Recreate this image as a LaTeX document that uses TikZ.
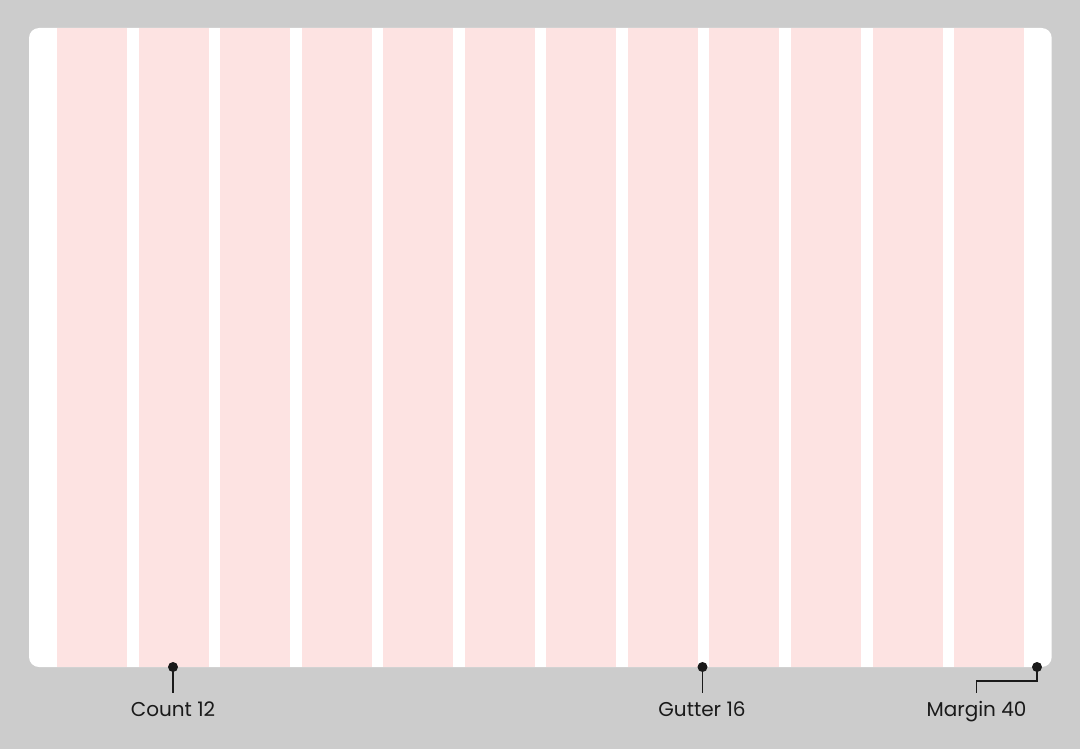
\documentclass[tikz,border=0pt]{standalone}
\usepackage{fontspec}
\setmainfont{Poppins}
\definecolor{bggray}{RGB}{204,204,204}
\definecolor{colpink}{RGB}{253,227,226}
\definecolor{ink}{RGB}{26,26,26}
\begin{document}
\begin{tikzpicture}[x=0.75pt,y=-0.75pt,
  colbox/.style={fill=colpink,draw=none},
  marker/.style={circle,fill=ink,inner sep=0pt,minimum size=7.5pt},
  leader/.style={draw=ink,line width=1.1pt},
  lbl/.style={text=ink,font=\fontsize{15}{18}\selectfont,inner sep=0pt,anchor=base}]
\fill[bggray] (0,0) rectangle (1080,749);
\useasboundingbox (0,0) rectangle (1080,749);
\fill[white,rounded corners=7.5pt] (29,28) rectangle (1051.7,667);
\foreach \i in {0,...,11}{
  \fill[colbox] ({57+\i*81.55},28) rectangle ({127+\i*81.55},667);
}
\node[marker] (d1) at (173,667) {};
\node[marker] (d2) at (702.5,667) {};
\node[marker] (d3) at (1037,667) {};
\coordinate (c1) at (173,693);
\coordinate (c2) at (702.5,693);
\coordinate (c3) at (976.5,693);
\node[lbl] (t1) at (173,716) {Count 12};
\node[lbl] (t2) at (702,716) {Gutter 16};
\node[lbl] (t3) at (976.5,716) {Margin 40};
\draw[leader] (d1.center) -- (c1);
\draw[leader] (d2.center) -- (c2);
\draw[leader] (d3.center) |- (976.5,681) -- (c3);
\end{tikzpicture}
\end{document}
